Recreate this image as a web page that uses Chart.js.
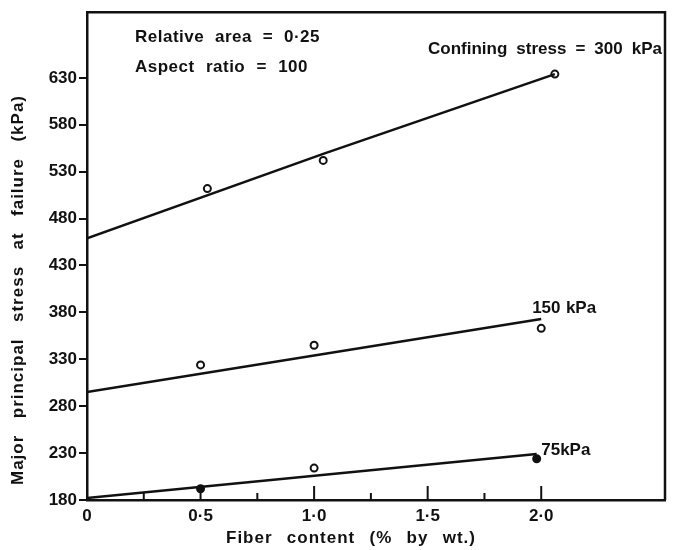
<!DOCTYPE html>
<html>
<head>
<meta charset="utf-8">
<script src="https://cdn.jsdelivr.net/npm/chart.js@4.4.1/dist/chart.umd.min.js"></script>
<style>
  html, body { margin: 0; padding: 0; background: #fff; }
  #wrap { width: 674px; height: 550px; position: relative; }
</style>
</head>
<body>
<div id="wrap"><canvas id="fiberChart"></canvas></div>
<script>
// measured points (fiber content %, major principal stress kPa)
var fiber300 = [0.53, 1.04, 2.06];
var stress300 = [512, 542, 634];
var fiber150 = [0.5, 1.0, 2.0];
var stress150 = [324, 345, 363];
var fiber75 = [0.5, 1.0, 1.98];
var stress75 = [192, 214, 224];

// lines as drawn on the figure
var line300X = [0, 1.04, 2.06];
var line300Y = [459, 549, 634];
var line150X = [0, 2.0];
var line150Y = [295, 373];
var line75X = [0, 1.98];
var line75Y = [182, 229];

// axes
var yTicks = [180, 230, 280, 330, 380, 430, 480, 530, 580, 630];
var xTicks = [0, 0.5, 1.0, 1.5, 2.0];
var xTickLabels = ['0', '0·5', '1·0', '1·5', '2·0'];
var xMinorTicks = [0.25, 0.75, 1.25, 1.75];

var INK = '#111';
var FONT = '"Liberation Sans", Arial, sans-serif';

function pts(xs, ys) {
  return xs.map(function (x, i) { return { x: x, y: ys[i] }; });
}

function lineSet(xs, ys) {
  return {
    data: pts(xs, ys),
    showLine: true,
    borderColor: INK,
    borderWidth: 2.5,
    pointRadius: 0,
    fill: false
  };
}

function markSet(xs, ys, fills) {
  return {
    data: pts(xs, ys),
    showLine: false,
    pointStyle: 'circle',
    pointRadius: 3.5,
    pointBorderWidth: 2,
    pointBorderColor: INK,
    pointBackgroundColor: fills
  };
}

// draw text from x to x+width, spreading the gaps between words
function spreadText(ctx, text, x, y, width) {
  var gaps = text.split(' ').length - 1;
  var spacings = [1, 0.5, 0];
  var w = 0;
  ctx.wordSpacing = '0px';
  for (var i = 0; i < spacings.length; i++) {
    ctx.letterSpacing = spacings[i] + 'px';
    w = ctx.measureText(text).width;
    if (w + gaps * 4 <= width) break;
  }
  if (gaps > 0) {
    ctx.wordSpacing = Math.max(0, (width - w) / gaps) + 'px';
  }
  ctx.textAlign = 'left';
  ctx.fillText(text, x, y);
  ctx.wordSpacing = '0px';
  ctx.letterSpacing = '0px';
}

// frame, inward x ticks, axis titles, and the text notes
var figureDecor = {
  id: 'figureDecor',
  afterDraw: function (chart) {
    var ctx = chart.ctx;
    var a = chart.chartArea;
    var xs = chart.scales.x;
    var ys = chart.scales.y;
    ctx.save();
    ctx.strokeStyle = INK;
    ctx.lineWidth = 2.5;
    // top and right side of the box
    ctx.beginPath();
    ctx.moveTo(a.left, a.top);
    ctx.lineTo(a.right, a.top);
    ctx.lineTo(a.right, a.bottom);
    ctx.stroke();

    // ticks pointing up into the plot
    ctx.lineWidth = 2;
    xTicks.forEach(function (v) {
      if (v === 0) return;
      var px = xs.getPixelForValue(v);
      ctx.beginPath();
      ctx.moveTo(px, a.bottom);
      ctx.lineTo(px, a.bottom - 14);
      ctx.stroke();
    });
    xMinorTicks.forEach(function (v) {
      var px = xs.getPixelForValue(v);
      ctx.beginPath();
      ctx.moveTo(px, a.bottom);
      ctx.lineTo(px, a.bottom - 7);
      ctx.stroke();
    });

    ctx.fillStyle = INK;
    ctx.font = 'bold 17px ' + FONT;
    ctx.textBaseline = 'middle';

    // x title
    spreadText(ctx, 'Fiber content (% by wt.)', 226, 538, 250);

    // y title
    ctx.save();
    ctx.translate(18, 485);
    ctx.rotate(-Math.PI / 2);
    spreadText(ctx, 'Major principal stress at failure (kPa)', 0, 0, 390);
    ctx.restore();

    // notes
    spreadText(ctx, 'Relative area = 0·25', 135, 37, 185);
    spreadText(ctx, 'Aspect ratio = 100', 135, 67, 173);
    spreadText(ctx, 'Confining stress = 300 kPa', 428, 49, 234);
    spreadText(ctx, '150 kPa', xs.getPixelForValue(1.96), ys.getPixelForValue(line150Y[1]) - 11, 64);
    spreadText(ctx, '75kPa', xs.getPixelForValue(2.0), ys.getPixelForValue(line75Y[1]) - 4, 50);
    ctx.restore();
  }
};

var ctxChart = document.getElementById('fiberChart');
var fiberChart = new Chart(ctxChart, {
  type: 'scatter',
  data: {
    datasets: [
      lineSet(line300X, line300Y),
      lineSet(line150X, line150Y),
      lineSet(line75X, line75Y),
      markSet(fiber300, stress300, '#fff'),
      markSet(fiber150, stress150, '#fff'),
      markSet(fiber75, stress75, [INK, '#fff', INK])
    ]
  },
  options: {
    responsive: true,
    maintainAspectRatio: false,
    animation: false,
    layout: {
      padding: { top: 8, right: 9, left: 0, bottom: 0 }
    },
    plugins: {
      legend: { display: false },
      tooltip: { enabled: false }
    },
    scales: {
      x: {
        type: 'linear',
        min: 0,
        max: 2.545,
        border: { display: true, color: INK, width: 2.5 },
        grid: { display: true, drawOnChartArea: false, drawTicks: false },
        afterBuildTicks: function (scale) {
          scale.ticks = xTicks.map(function (v) { return { value: v }; });
        },
        afterFit: function (scale) { scale.height = 50; },
        ticks: {
          color: INK,
          padding: 6,
          maxRotation: 0,
          font: { family: FONT, size: 17, weight: 'bold' },
          callback: function (value) {
            var i = xTicks.indexOf(value);
            return i >= 0 ? xTickLabels[i] : '';
          }
        }
      },
      y: {
        type: 'linear',
        min: 180,
        max: 700,
        border: { display: true, color: INK, width: 2.5 },
        grid: { display: true, drawOnChartArea: false, drawTicks: true, tickLength: 8, color: INK, lineWidth: 2 },
        afterBuildTicks: function (scale) {
          scale.ticks = yTicks.map(function (v) { return { value: v }; });
        },
        afterFit: function (scale) { scale.width = 87; },
        ticks: {
          color: INK,
          padding: 2,
          font: { family: FONT, size: 17, weight: 'bold' }
        }
      }
    }
  },
  plugins: [figureDecor]
});
</script>
</body>
</html>
